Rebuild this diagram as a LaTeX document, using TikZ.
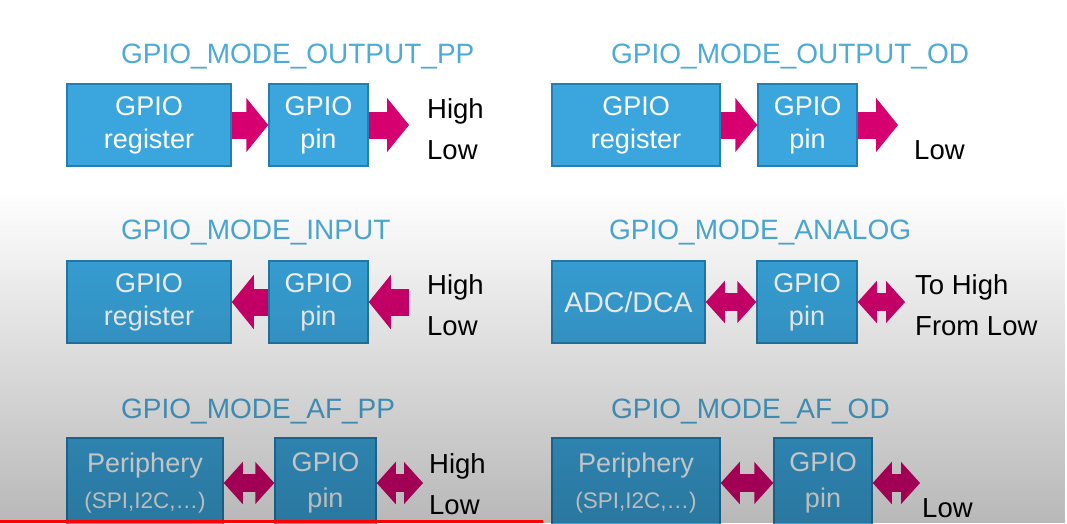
\documentclass[tikz,border=0pt]{standalone}
\usepackage{fontspec}
\setmainfont{Liberation Sans}
\usetikzlibrary{arrows.meta,fadings}
\definecolor{stblue}{RGB}{58,166,221}
\definecolor{stedge}{RGB}{36,126,176}
\definecolor{sttitle}{RGB}{78,170,214}
\definecolor{stpink}{RGB}{214,0,112}
\tikzset{
  blk/.style={draw=stedge,line width=1.5pt,fill=stblue,text=white,align=center,
    inner sep=0pt,minimum height=82pt,font=\fontsize{27}{33}\selectfont},
  mode/.style={anchor=base west,text=sttitle,inner sep=0pt,font=\fontsize{28}{30}\selectfont},
  lvl/.style={anchor=base west,inner sep=0pt,font=\fontsize{27.5}{30}\selectfont},
  fat/.style={stpink,line width=27pt,
    -{Triangle[length=22pt 0 0,width=54pt 0 0,line width=1.5pt 0 0]}},
  fatboth/.style={stpink,line width=18pt,
    {Triangle[length=19pt 0 0,width=42pt 0 0,line width=1.5pt 0 0]}-{Triangle[length=19pt 0 0,width=42pt 0 0,line width=1.5pt 0 0]}}
}
\begin{document}
\begin{tikzpicture}[x=1pt,y=-1pt]
  \clip (0,0) rectangle (1067,523);
  \fill[white] (0,0) rectangle (1067,523);

  % output push-pull
  \node[mode] (t1) at (121,63) {GPIO\_MODE\_OUTPUT\_PP};
  \node[blk,minimum width=164pt] (reg1) at (149,125) {GPIO\\register};
  \node[blk,minimum width=99pt] (pin1) at (318.5,125) {GPIO\\pin};
  \coordinate (out1) at (409,125);
  \draw[fat] (reg1) -- (pin1);
  \draw[fat] (pin1) -- (out1);
  \node[lvl] (hi1) at (427,118) {High};
  \node[lvl] (lo1) at (427,159) {Low};

  % output open drain
  \node[mode] (t2) at (611,63) {GPIO\_MODE\_OUTPUT\_OD};
  \node[blk,minimum width=168pt] (reg2) at (636,125) {GPIO\\register};
  \node[blk,minimum width=99pt] (pin2) at (807.5,125) {GPIO\\pin};
  \coordinate (out2) at (898,125);
  \draw[fat] (reg2) -- (pin2);
  \draw[fat] (pin2) -- (out2);
  \node[lvl] (lo2) at (914,159) {Low};

  % input
  \node[mode] (t3) at (121,239) {GPIO\_MODE\_INPUT};
  \node[blk,minimum width=164pt] (reg3) at (149,302) {GPIO\\register};
  \node[blk,minimum width=99pt] (pin3) at (318.5,302) {GPIO\\pin};
  \coordinate (in3) at (409,302);
  \draw[fat] (in3) -- (pin3);
  \draw[fat] (pin3) -- (reg3);
  \node[lvl] (hi3) at (427,294) {High};
  \node[lvl] (lo3) at (427,335) {Low};

  % analog
  \node[mode] (t4) at (609,239) {GPIO\_MODE\_ANALOG};
  \node[blk,minimum width=153pt,font=\fontsize{28.5}{33}\selectfont] (adc4) at (628.5,302) {ADC/DCA};
  \node[blk,minimum width=100pt] (pin4) at (807,302) {GPIO\\pin};
  \coordinate (io4) at (905,302);
  \draw[fatboth] (adc4) -- (pin4);
  \draw[fatboth] (pin4) -- (io4);
  \node[lvl] (hi4) at (915,294) {To High};
  \node[lvl] (lo4) at (915,335) {From Low};

  % alternate function push-pull (boxes run past the lower edge)
  \node[mode] (t5) at (121,418) {GPIO\_MODE\_AF\_PP};
  \node[blk,minimum width=156pt,minimum height=90pt,font=\fontsize{27}{36}\selectfont] (per5) at (145,483) {Periphery\\{\fontsize{22.5}{26}\selectfont (SPI,I2C,…)}};
  \node[blk,minimum width=101pt,minimum height=90pt,font=\fontsize{27}{36}\selectfont] (pin5) at (325.5,483) {GPIO\\pin};
  \coordinate (io5) at (423,483);
  \draw[fatboth] (per5) -- (pin5);
  \draw[fatboth] (pin5) -- (io5);
  \node[lvl] (hi5) at (429,473) {High};
  \node[lvl] (lo5) at (429,514) {Low};

  % alternate function open drain
  \node[mode] (t6) at (611,418) {GPIO\_MODE\_AF\_OD};
  \node[blk,minimum width=168pt,minimum height=90pt,font=\fontsize{27}{36}\selectfont] (per6) at (636,483) {Periphery\\{\fontsize{22.5}{26}\selectfont (SPI,I2C,…)}};
  \node[blk,minimum width=98pt,minimum height=90pt,font=\fontsize{27}{36}\selectfont] (pin6) at (823,483) {GPIO\\pin};
  \coordinate (io6) at (920,483);
  \draw[fatboth] (per6) -- (pin6);
  \draw[fatboth] (pin6) -- (io6);
  \node[lvl] (lo6) at (922,517) {Low};

  % grey shading towards the bottom
  \fill[black,fill opacity=0.28,path fading=north] (0,190) rectangle (1067,523);
  \fill[red] (0,520) rectangle (543,523);
\end{tikzpicture}
\end{document}
